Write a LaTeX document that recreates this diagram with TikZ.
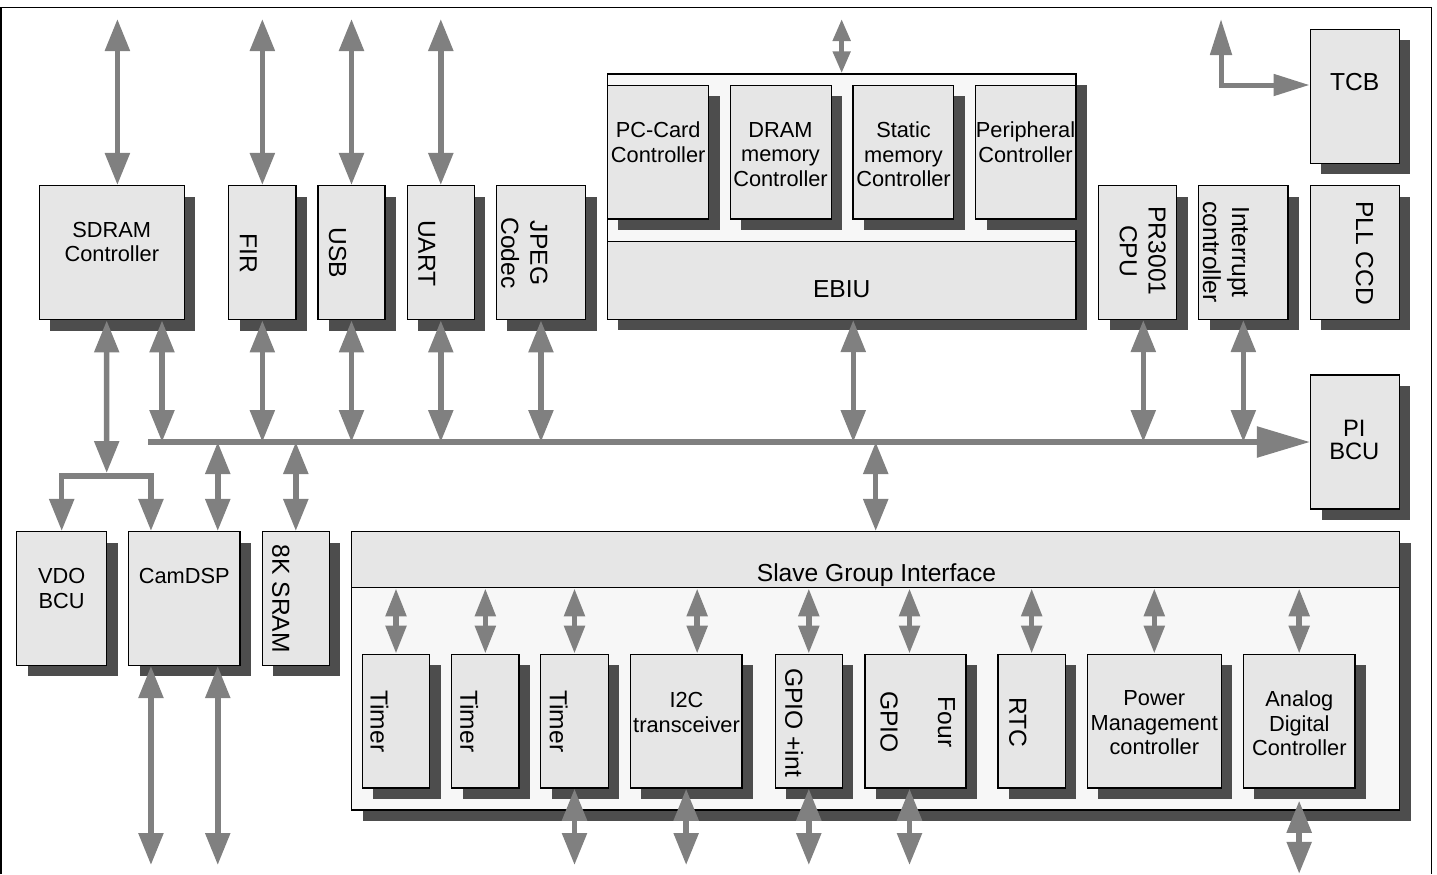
\documentclass[tikz,border=0pt]{standalone}
\usepackage{fontspec}
\setmainfont{Liberation Sans}
\usetikzlibrary{arrows.meta,shadows,fit,calc}

\definecolor{boxfill}{HTML}{E6E6E6}
\definecolor{grpfill}{HTML}{F7F7F7}
\definecolor{shade}{HTML}{4D4D4D}
\definecolor{wire}{HTML}{808080}

\begin{document}
\begin{tikzpicture}[
	x=0.2mm, y=-0.2mm,
	blk/.style={draw=black, line width=0.3mm, fill=boxfill, inner sep=0pt,
		general shadow={fill=shade, shadow xshift=2.2mm, shadow yshift=-2.2mm}},
	grp/.style={blk, fill=grpfill},
	hdr/.style={draw=black, line width=0.3mm, fill=boxfill, inner sep=0pt},
	lbl/.style={inner sep=0pt, align=center, font=\fontsize{12.4}{14}\selectfont},
	big/.style={inner sep=0pt, align=center, font=\fontsize{14}{16.5}\selectfont},
	vlbl/.style={big, rotate=-90},
	link/.style={draw=wire, line width=1.1mm, >={Triangle[width=4.8mm,length=6.4mm]}, <->},
	slink/.style={draw=wire, line width=1.1mm, >={Triangle[width=4mm,length=5.6mm]}, <->},
	xslink/.style={draw=wire, line width=1mm, >={Triangle[width=3.4mm,length=4.4mm]}, <->},
	tlink/.style={draw=wire, line width=1mm, >={Triangle[width=4.2mm,length=7.2mm]}, <->},
	bus/.style={draw=wire, line width=1.1mm, -{Triangle[width=6mm,length=10.6mm]}},
	frame/.style={draw=black, line width=0.35mm},
]

\useasboundingbox (0,0) rectangle (1437,874);
\draw[frame] (1,874) -- (1,7.5) -- (1431.5,7.5) -- (1431.5,874);

\coordinate (topedge) at (0,19);
\coordinate (botedge) at (0,865);
\coordinate (busW) at (148,442);
\coordinate (brj) at (106.7,476);
\coordinate (tcbup) at (1221,19);

\begin{scope}[]
%%% TOP ROW
\node[blk, fit={(39.3,185.7) (184.3,319.7)}] (sdram) {};
\node[blk, fit={(228.7,185.7) (296,319.7)}] (fir) {};
\node[blk, fit={(318,185.7) (385,319.7)}] (usb) {};
\node[blk, fit={(407.3,185.7) (474.3,319.7)}] (uart) {};
\node[blk, fit={(496.4,185.7) (585.5,319.7)}] (jpeg) {};

%%% EBIU GROUP
\node[grp, fit={(607.3,74) (1076,319.3)}] (ebiugrp) {};
\node[blk, fit={(607.3,85.3) (708.7,219)}] (pccard) {};
\node[blk, fit={(730.3,85.3) (831.3,219)}] (dram) {};
\node[blk, fit={(853,85.3) (953.7,219)}] (static) {};
\node[blk, fit={(975.7,85.3) (1076,219)}] (periph) {};
\node[hdr, fit={(607.3,241.7) (1076,319.3)}] (ebiu) {};

\node[blk, fit={(1098.7,185.7) (1176.7,319.3)}] (cpu) {};
\node[blk, fit={(1198.7,185.7) (1288,319.3)}] (intc) {};
\node[blk, fit={(1310.3,185.7) (1399.3,319.3)}] (pll) {};
\node[blk, fit={(1310.3,29.3) (1399.3,163.3)}] (tcb) {};
\node[blk, fit={(1310.7,375) (1399.3,509)}] (pibcu) {};
\end{scope}

\begin{scope}[]
%%% LOWER ROW
\node[blk, fit={(16.7,531.7) (106.7,665.3)}] (vdo) {};
\node[blk, fit={(128.7,531.7) (240,665.3)}] (camdsp) {};
\node[blk, fit={(262.3,531.7) (329.3,665.3)}] (sram) {};

%%% SLAVE GROUP
\node[grp, fit={(351.7,531.7) (1399.7,810)}] (slave) {};
\node[hdr, fit={(351.7,531.7) (1399.7,587.7)}] (sgihdr) {};
\node[blk, fit={(362.3,654.3) (429.7,788)}] (timer1) {};
\node[blk, fit={(451.7,654.3) (519,788)}] (timer2) {};
\node[blk, fit={(540.7,654.3) (608.3,788)}] (timer3) {};
\node[blk, fit={(630.3,654.3) (742,788)}] (i2c) {};
\node[blk, fit={(775.3,654.3) (842.3,788)}] (gpioi) {};
\node[blk, fit={(865,654.3) (966,788)}] (gpio4) {};
\node[blk, fit={(998,654.3) (1065.3,788)}] (rtc) {};
\node[blk, fit={(1087.3,654.3) (1221.3,788)}] (power) {};
\node[blk, fit={(1243.3,654.3) (1355,788)}] (adc) {};
\end{scope}

%%% BUS
\draw[bus] (busW) -- (pibcu.west);

\draw[link] ($(sdram.north)+(5.6,0)$) -- ($(sdram.north |- topedge)+(5.6,0)$);
\foreach \b in {fir,usb,uart}
	\draw[link] (\b.north) -- (\b.north |- topedge);
\draw[xslink] (ebiugrp.north) -- (ebiugrp.north |- topedge);
\draw[tlink] (tcbup) |- ($(tcb.west)+(0,-11.3)$);

\draw[link] ($(sdram.south -| busW)+(14,0)$) -- ($(busW)+(14,0)$);
\foreach \b in {fir,usb,uart,jpeg,intc}
	\draw[link] (\b.south) -- (\b.south |- busW);
\draw[link] ($(ebiu.south)+(11.6,0)$) -- ($(ebiu.south |- busW)+(11.6,0)$);
\draw[link] ($(cpu.south)+(5.6,0)$) -- ($(cpu.south |- busW)+(5.6,0)$);

\draw[link] ($(sdram.south)+(-5.1,0)$) -- ($(brj)+(0,-3)$);
\draw[link] (vdo.north) |- (brj) -| ($(camdsp.north)+(-33.4,0)$);
\draw[link] ($(camdsp.north)+(33.4,0)$) -- ($(camdsp.north |- busW)+(33.4,0)$);
\foreach \b in {sram,slave}
	\draw[link] (\b.north) -- (\b.north |- busW);
\draw[link] ($(camdsp.south)+(-33.4,0)$) -- ($(camdsp.south |- botedge)+(-33.4,0)$);
\draw[link] ($(camdsp.south)+(33.4,0)$) -- ($(camdsp.south |- botedge)+(33.4,0)$);

%%% SLAVE LINKS
\foreach \b in {timer1,timer2,timer3,gpioi,rtc,power,adc}
	\draw[slink] (\b.north) -- (\b.north |- sgihdr.south);
\draw[slink] ($(i2c.north)+(11,0)$) -- ($(i2c.north |- sgihdr.south)+(11,0)$);
\draw[slink] ($(gpio4.north)+(-6,0)$) -- ($(gpio4.north |- sgihdr.south)+(-6,0)$);
\foreach \b in {timer3,i2c,gpioi}
	\draw[link] (\b.south) -- (\b.south |- botedge);
\draw[link] ($(gpio4.south)+(-6,0)$) -- ($(gpio4.south |- botedge)+(-6,0)$);
\draw[link] ($(adc.south)+(0,12)$) -- ($(adc.south)+(0,85)$);

%%% LABELS
\node[lbl] (sdramT) at (111.8,241.9) {SDRAM\\Controller};
\node[vlbl] (firT) at (248.3,253.3) {FIR};
\node[vlbl] (usbT) at (337.5,252.8) {USB};
\node[vlbl] (uartT) at (426.7,253.3) {UART};
\node[vlbl] (jpegT) at (524.3,253) {JPEG\\Codec};
\node[lbl] (pccardT) at (658.2,142) {PC-Card\\Controller};
\node[lbl] (dramT) at (780.5,154.5) {DRAM\\memory\\Controller};
\node[lbl] (staticT) at (903.5,154.5) {Static\\memory\\Controller};
\node[lbl] (periphT) at (1025.5,142) {Peripheral\\Controller};
\node[big] (ebiuT) at (841.7,289.5) {EBIU};
\node[vlbl] (cpuT) at (1142.7,251) {PR3001\\CPU};
\node[vlbl] (intcT) at (1226,252) {Interrupt\\controller};
\node[vlbl] (pllT) at (1364.5,253.3) {PLL CCD};
\node[big] (tcbT) at (1354.7,82) {TCB};
\node[big, font=\fontsize{13.5}{13.3}\selectfont] (pibcuT) at (1354.3,440) {PI\\BCU};
\node[lbl] (vdoT) at (61.7,588.2) {VDO\\BCU};
\node[lbl] (camdspT) at (184.2,575.9) {CamDSP};
\node[vlbl] (sramT) at (280.8,598.7) {8K SRAM};
\node[big, anchor=base] (sgiT) at (876.5,581.7) {Slave Group Interface};
\node[vlbl] (timer1T) at (379.5,721.3) {Timer};
\node[vlbl] (timer2T) at (469.2,721.3) {Timer};
\node[vlbl] (timer3T) at (558.7,721.3) {Timer};
\node[lbl] (i2cT) at (686.5,712.2) {I2C\\transceiver};
\node[vlbl] (gpioiT) at (794.2,722.5) {GPIO +int};
\node[vlbl] (gpio4T) at (917.7,722) {Four\\[16.3pt]GPIO};
\node[vlbl] (rtcT) at (1017.8,722.5) {RTC};
\node[lbl] (powerT) at (1154.3,722.9) {Power\\Management\\controller};
\node[lbl] (adcT) at (1299.3,723.2) {Analog\\Digital\\Controller};

\end{tikzpicture}
\end{document}
